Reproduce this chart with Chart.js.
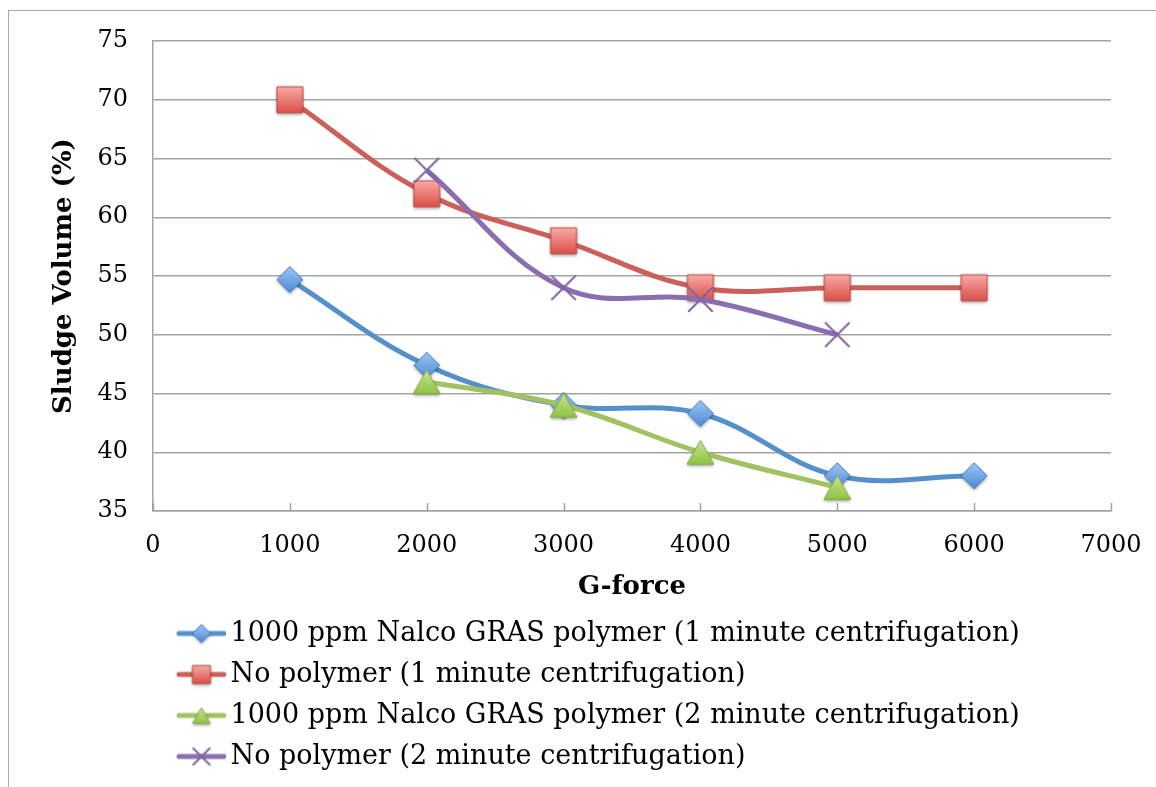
<!DOCTYPE html>
<html><head><meta charset="utf-8">
<script src="https://cdn.jsdelivr.net/npm/chart.js@4"></script>
<style>
html,body{margin:0;padding:0;background:#fff;overflow:hidden;}
#wrap{position:relative;width:1156px;height:787px;overflow:hidden;}
#frame{position:absolute;left:8px;top:10px;width:1300px;height:1000px;border-left:1.5px solid #a8a8a8;border-top:1.5px solid #a8a8a8;pointer-events:none;}
canvas{position:absolute;left:0;top:0;}
</style></head>
<body><div id="wrap"><canvas id="c" width="1156" height="787"></canvas><div id="frame"></div></div>
<script>
// ---- data ----
const gForce1 = [1000, 2000, 3000, 4000, 5000, 6000];
const nalco1min = [54.7, 47.4, 44.0, 43.3, 38.0, 38.0];
const noPoly1min = [70, 62, 58, 54, 54, 54];
const gForce2 = [2000, 3000, 4000, 5000];
const nalco2min = [46, 44, 40, 37];
const noPoly2min = [64, 54, 53, 50];
const seriesNames = [
  "1000 ppm Nalco GRAS polymer (1 minute centrifugation)",
  "No polymer (1 minute centrifugation)",
  "1000 ppm Nalco GRAS polymer (2 minute centrifugation)",
  "No polymer (2 minute centrifugation)"
];
const xTicks = [0, 1000, 2000, 3000, 4000, 5000, 6000, 7000];
const yTicks = [35, 40, 45, 50, 55, 60, 65, 70, 75];
const xTitle = "G-force";
const yTitle = "Sludge Volume (%)";

const FONT = "'DejaVu Serif', 'Liberation Serif', serif";
const GRID = "#a3a3a3";

// ---- marker images ----
function drawShape(g, kind, cx, cy, size, st) {
  const h = size / 2;
  g.beginPath();
  if (kind === 'diamond') {
    g.moveTo(cx, cy - h); g.lineTo(cx + h, cy); g.lineTo(cx, cy + h); g.lineTo(cx - h, cy); g.closePath();
  } else if (kind === 'square') {
    g.rect(cx - h, cy - h, size, size);
  } else if (kind === 'triangle') {
    const th = size * 0.88;
    g.moveTo(cx, cy - th / 2); g.lineTo(cx + h, cy + th / 2); g.lineTo(cx - h, cy + th / 2); g.closePath();
  }
  if (kind === 'cross') {
    const a = h * 0.98;
    g.moveTo(cx - a, cy - a); g.lineTo(cx + a, cy + a);
    g.moveTo(cx + a, cy - a); g.lineTo(cx - a, cy + a);
    g.strokeStyle = st.stroke; g.lineWidth = 2; g.stroke();
    return;
  }
  const grad = g.createLinearGradient(0, cy - h, 0, cy + h);
  grad.addColorStop(0, st.top); grad.addColorStop(1, st.bot);
  g.fillStyle = grad;
  g.fill();
  g.shadowColor = 'transparent';
  g.strokeStyle = st.stroke; g.lineWidth = 1; g.stroke();
}
function markerCanvas(kind, size, st) {
  const pad = 6;
  const S = Math.round(size + pad * 2);
  const cv = document.createElement('canvas'); cv.width = S; cv.height = S;
  const g = cv.getContext('2d');
  g.save();
  if (kind !== 'cross') { g.shadowColor = 'rgba(0,0,0,0.35)'; g.shadowBlur = 3; g.shadowOffsetY = 2; }
  drawShape(g, kind, S / 2, S / 2, size, st);
  g.restore();
  return cv;
}
function legendIcon(kind, size, st, lineColor) {
  const cv = document.createElement('canvas'); cv.width = 68; cv.height = 30;
  const g = cv.getContext('2d');
  g.strokeStyle = lineColor; g.lineWidth = 5; g.lineCap = 'round';
  g.beginPath(); g.moveTo(21, 15); g.lineTo(66, 15); g.stroke();
  const m = markerCanvas(kind, size, st);
  g.drawImage(m, 43.5 - m.width / 2, 15 - m.height / 2);
  return cv;
}
const styles = [
  {kind: 'diamond', size: 26, line: '#5590cb', st: {top: '#9cc7f4', bot: '#4d8ad6', stroke: '#3f78b8'}},
  {kind: 'square', size: 26, line: '#cd5f5a', st: {top: '#f7aaa6', bot: '#dd4f49', stroke: '#b9453f'}},
  {kind: 'triangle', size: 27, line: '#a2c262', st: {top: '#cbe79a', bot: '#8dc13c', stroke: '#86a94b'}},
  {kind: 'cross', size: 25, line: '#8a6fb0', st: {stroke: '#8064a2'}}
];
const pointImgs = styles.map(s => markerCanvas(s.kind, s.size, s.st));
const legendImgs = styles.map(s => legendIcon(s.kind, 18, s.st, s.line));

function pts(xs, ys) { return xs.map((x, i) => ({x: x, y: ys[i]})); }
const seriesData = [pts(gForce1, nalco1min), pts(gForce1, noPoly1min), pts(gForce2, nalco2min), pts(gForce2, noPoly2min)];

const datasets = seriesData.map((d, i) => ({
  label: seriesNames[i],
  data: d,
  borderColor: styles[i].line,
  backgroundColor: styles[i].line,
  borderWidth: 5,
  tension: 0.38,
  pointStyle: pointImgs[i],
  pointRadius: 13,
  order: 4 - i
}));

const innerTicks = {
  id: 'innerTicks',
  beforeDatasetsDraw(chart) {
    const s = chart.scales.x, ctx = chart.ctx;
    ctx.save();
    ctx.strokeStyle = GRID; ctx.lineWidth = 1.5;
    s.ticks.forEach(t => {
      const px = Math.round(s.getPixelForValue(t.value)) + 0.5;
      ctx.beginPath(); ctx.moveTo(px, s.top); ctx.lineTo(px, s.top - 8); ctx.stroke();
    });
    ctx.restore();
  }
};

new Chart(document.getElementById('c'), {
  type: 'line',
  data: {datasets: datasets},
  plugins: [innerTicks],
  options: {
    responsive: false,
    animation: false,
    layout: {padding: {top: 41, right: 45, bottom: 7, left: 0}},
    plugins: {
      tooltip: {enabled: false},
      legend: {
        position: 'bottom',
        align: 'start',
        fullSize: false,
        labels: {
          usePointStyle: true,
          pointStyleWidth: 50,
          padding: 14,
          color: '#000',
          font: {family: FONT, size: 27},
          generateLabels: (chart) => chart.data.datasets.map((ds, i) => ({
            text: ds.label, pointStyle: legendImgs[i], datasetIndex: i,
            fillStyle: 'rgba(0,0,0,0)', strokeStyle: 'rgba(0,0,0,0)', lineWidth: 0,
            hidden: false, fontColor: '#000'
          }))
        }
      }
    },
    scales: {
      x: {
        type: 'linear', min: xTicks[0], max: xTicks[xTicks.length - 1],
        afterBuildTicks: s => { s.ticks = xTicks.map(v => ({value: v})); },
        afterFit: s => { s.height = 95; },
        grid: {display: false, drawTicks: false},
        border: {display: true, color: GRID, width: 1.5},
        ticks: {padding: 0, color: '#000', font: {family: FONT, size: 24, lineHeight: 2.9}, callback: v => String(v)},
        title: {display: true, text: xTitle, color: '#000', font: {family: FONT, size: 26, weight: 'bold'}, padding: {top: 0, bottom: 3}}
      },
      y: {
        min: yTicks[0], max: yTicks[yTicks.length - 1],
        afterBuildTicks: s => { s.ticks = yTicks.map(v => ({value: v})); },
        afterFit: s => { s.width = 153; },
        grid: {color: GRID, lineWidth: 1.5, drawTicks: false},
        border: {display: true, color: GRID, width: 1.5},
        ticks: {padding: 25, color: '#000', font: {family: FONT, size: 24}, callback: v => String(v)},
        title: {display: true, text: yTitle, color: '#000', font: {family: FONT, size: 26, weight: 'bold'}, padding: {top: 49, bottom: 0}}
      }
    }
  }
});
</script>
</body></html>
